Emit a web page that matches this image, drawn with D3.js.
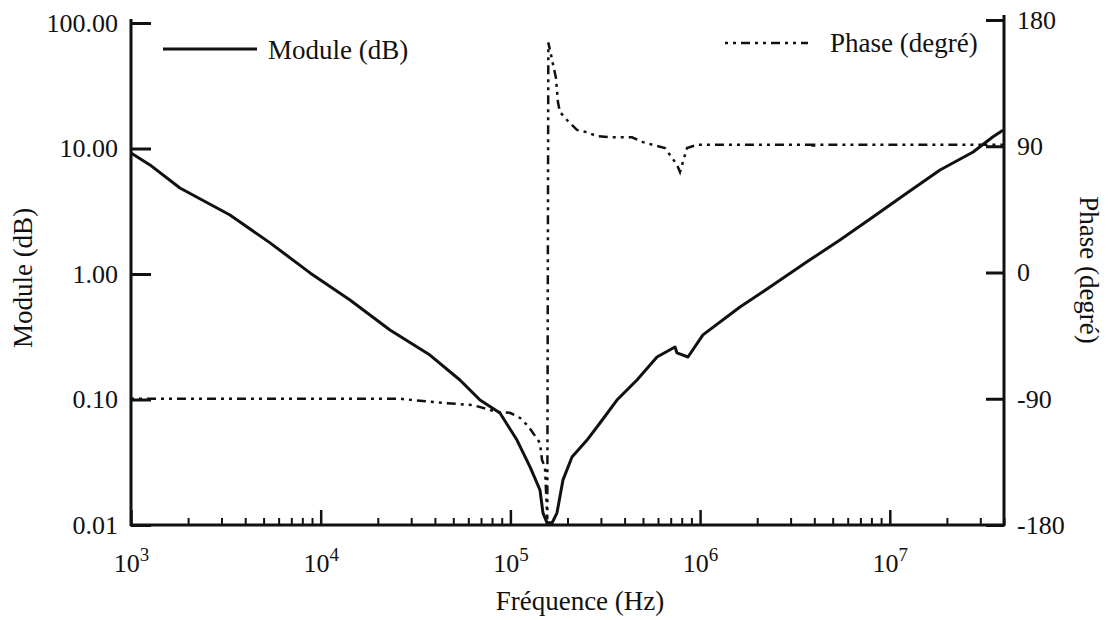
<!DOCTYPE html>
<html>
<head>
<meta charset="utf-8">
<script src="https://cdn.jsdelivr.net/npm/d3@7"></script>
<style>
  html, body { margin: 0; padding: 0; background: #fff; }
  svg text { font-family: "Liberation Serif", "Times New Roman", serif; fill: #111; }
</style>
</head>
<body>
<svg id="chart" width="1111" height="620"></svg>
<script>
// ---- data ----
const moduleFreq = [1000, 1259, 1811, 3324, 5409, 8790, 14270, 23180, 37670, 54200, 69150, 88130,
  108300, 126900, 143200, 148500, 156000, 166000, 176000, 189400, 211200, 253500, 296700, 364500,
  464800, 592600, 737500, 755600, 863500, 1035000, 1623000, 2420000, 3660000, 5460000, 8150000,
  12320000, 18400000, 27500000, 35000000, 39500000];
const moduleVal = [9.2, 7.4, 4.84, 2.95, 1.77, 1.02, 0.62, 0.358, 0.226, 0.143, 0.099, 0.078,
  0.0475, 0.029, 0.019, 0.0125, 0.0104, 0.0104, 0.0125, 0.0229, 0.0348, 0.0475, 0.065, 0.099,
  0.143, 0.218, 0.262, 0.235, 0.218, 0.327, 0.546, 0.816, 1.25, 1.87, 2.85,
  4.42, 6.74, 9.37, 12.4, 14.0];

const phaseFreq = [1000, 26200, 44200, 63500, 85000, 99500, 112400, 123900, 131600, 143200, 146800,
  152100, 156500, 158500, 173900, 178100, 182500, 198700, 224300, 253300, 286000, 347500, 437700,
  500300, 653000, 755600, 783500, 853000, 963500, 3900000, 3950000, 4000000, 39500000];
const phaseVal = [-90, -90, -93, -94.5, -99.4, -100, -103.7, -109.4, -114.4, -121.5, -133.7,
  -138.7, -176, 164, 138.6, 121.5, 114.4, 108.7, 101.6, 100, 97.2, 96.4, 96.4,
  92.9, 88.7, 76.8, 71.6, 88.7, 91, 91, 88, 91, 91];

const xTickValues = [1e3, 1e4, 1e5, 1e6, 1e7];
const xTickExponents = ["3", "4", "5", "6", "7"];
const leftTickValues = [0.01, 0.1, 1, 10, 100];
const leftTickLabels = ["0.01", "0.10", "1.00", "10.00", "100.00"];
const rightTickValues = [-180, -90, 0, 90, 180];
const rightTickLabels = ["-180", "-90", "0", "90", "180"];

const xTitle = "Fréquence (Hz)";
const yLeftTitle = "Module (dB)";
const yRightTitle = "Phase (degré)";
const legendModule = "Module (dB)";
const legendPhase = "Phase (degré)";

// ---- scales ----
const svg = d3.select("#chart");
const x = d3.scaleLog().domain([1e3, 4e7]).range([131, 1004]);
const yL = d3.scaleLog().domain([0.01, 100]).range([525, 23]);
const yR = d3.scaleLinear().domain([-180, 180]).range([525, 20]);

const minorTicks = [];
for (let e = 3; e <= 7; e++) for (let k = 2; k <= 9; k++) {
  const v = k * Math.pow(10, e);
  if (v <= 4e7) minorTicks.push(v);
}

// ---- axes ----
// minor x ticks
svg.append("g").attr("transform", "translate(0,525)")
  .call(d3.axisBottom(x).tickValues(minorTicks).tickSizeInner(-7).tickSizeOuter(0).tickFormat(""))
  .call(g => g.select(".domain").remove())
  .call(g => g.selectAll(".tick line").attr("stroke", "#111").attr("stroke-width", 2));

// major x ticks
const gx = svg.append("g").attr("transform", "translate(0,525)")
  .call(d3.axisBottom(x).tickValues(xTickValues).tickSizeInner(-15).tickSizeOuter(0).tickPadding(10).tickFormat(""))
  .call(g => g.select(".domain").remove())
  .call(g => g.selectAll(".tick line").attr("stroke", "#111").attr("stroke-width", 2.5));
gx.selectAll(".tick text").remove();
gx.selectAll(".tick").each(function(d, i) {
  const t = d3.select(this).append("text")
    .attr("y", 47).attr("text-anchor", "middle").attr("font-size", 26).attr("fill", "#111");
  t.append("tspan").text("10");
  t.append("tspan").attr("dy", -11).attr("font-size", 19).text(xTickExponents[i]);
});

// left axis
svg.append("g").attr("transform", "translate(131,0)")
  .call(d3.axisLeft(yL).tickValues(leftTickValues).tickSizeInner(-20).tickSizeOuter(0).tickPadding(13)
    .tickFormat((d, i) => leftTickLabels[i]))
  .call(g => g.select(".domain").remove())
  .call(g => g.selectAll(".tick line").attr("stroke", "#111").attr("stroke-width", 3))
  .call(g => g.selectAll(".tick text").attr("font-size", 26).attr("font-family", "Liberation Serif, serif").attr("fill", "#111"));

// right axis
svg.append("g").attr("transform", "translate(1004,0)")
  .call(d3.axisRight(yR).tickValues(rightTickValues).tickSizeInner(-18).tickSizeOuter(0).tickPadding(13)
    .tickFormat((d, i) => rightTickLabels[i]))
  .call(g => g.select(".domain").remove())
  .call(g => g.selectAll(".tick line").attr("stroke", "#111").attr("stroke-width", 3))
  .call(g => g.selectAll(".tick text").attr("font-size", 26).attr("font-family", "Liberation Serif, serif").attr("fill", "#111"));

// axis lines
svg.append("line").attr("x1", 131).attr("x2", 131).attr("y1", 19).attr("y2", 526)
  .attr("stroke", "#111").attr("stroke-width", 3);
svg.append("line").attr("x1", 1004).attr("x2", 1004).attr("y1", 15).attr("y2", 526)
  .attr("stroke", "#111").attr("stroke-width", 3);
svg.append("line").attr("x1", 130).attr("x2", 1005).attr("y1", 525).attr("y2", 525)
  .attr("stroke", "#111").attr("stroke-width", 3);

// ---- series ----
const phaseDash = "3,5,3,5,9,5";
const modData = moduleFreq.map((f, i) => [f, moduleVal[i]]);
const phData = phaseFreq.map((f, i) => [f, phaseVal[i]]);

svg.append("path").datum(phData)
  .attr("fill", "none").attr("stroke", "#111").attr("stroke-width", 2.5)
  .attr("stroke-dasharray", phaseDash)
  .attr("d", d3.line().x(d => x(d[0])).y(d => yR(d[1])));

svg.append("path").datum(modData)
  .attr("fill", "none").attr("stroke", "#111").attr("stroke-width", 3)
  .attr("stroke-linejoin", "round")
  .attr("d", d3.line().x(d => x(d[0])).y(d => yL(d[1])));

// ---- legend ----
svg.append("line").attr("x1", 163).attr("x2", 257).attr("y1", 49).attr("y2", 49)
  .attr("stroke", "#111").attr("stroke-width", 3);
svg.append("text").attr("x", 268).attr("y", 59).attr("font-size", 27).text(legendModule);
svg.append("line").attr("x1", 725).attr("x2", 808).attr("y1", 43).attr("y2", 43)
  .attr("stroke", "#111").attr("stroke-width", 2.5).attr("stroke-dasharray", phaseDash);
svg.append("text").attr("x", 830).attr("y", 52).attr("font-size", 27).text(legendPhase);

// ---- titles ----
svg.append("text").attr("x", 580).attr("y", 610).attr("text-anchor", "middle")
  .attr("font-size", 27).text(xTitle);
svg.append("text").attr("transform", "translate(32,278) rotate(-90)").attr("text-anchor", "middle")
  .attr("font-size", 27).text(yLeftTitle);
svg.append("text").attr("transform", "translate(1080,270) rotate(90)").attr("text-anchor", "middle")
  .attr("font-size", 27).text(yRightTitle);
</script>
</body>
</html>
